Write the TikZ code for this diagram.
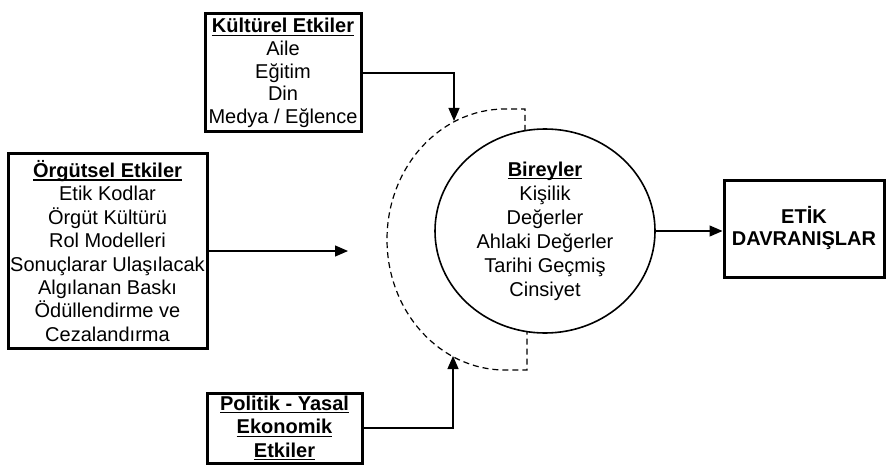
\documentclass[tikz,border=0pt]{standalone}
\usepackage{fontspec}
\setmainfont{Liberation Sans}
\usetikzlibrary{arrows.meta,shapes.geometric}

\newcommand{\ulbf}[1]{\setbox0\hbox{\textbf{#1}}\rlap{\rule[-1.5pt]{\wd0}{0.6pt}}\box0}

\begin{document}
\begin{tikzpicture}[x=0.5pt,y=-0.5pt,
  box/.style={draw,line width=1.5pt,align=center,inner sep=0pt,
    font=\fontsize{10}{11.7}\selectfont},
  arr/.style={line width=0.6pt,-{Triangle[length=6.5pt,width=5.5pt]}}]
 \useasboundingbox (0,0) rectangle (886,470);

 %etkiler
 \node(kult)[box,minimum width=78pt,minimum height=59pt,
  font=\fontsize{10}{11.3}\selectfont] at (283,73)
  {\ulbf{Kültürel Etkiler}\\Aile\\Eğitim\\Din\\Medya / Eğlence};
 \node(org)[box,minimum width=99.5pt,minimum height=97pt] at (107.5,251)
  {\ulbf{Örgütsel Etkiler}\\Etik Kodlar\\Örgüt Kültürü\\Rol Modelleri\\
   Sonuçlarar Ulaşılacak\\Algılanan Baskı\\Ödüllendirme ve\\Cezalandırma};
 \node(pol)[box,minimum width=77.5pt,minimum height=35pt] at (284.5,428)
  {\ulbf{Politik - Yasal}\\\ulbf{Ekonomik}\\\ulbf{Etkiler}};

 %birey
 \node(bir)[ellipse,draw,line width=0.8pt,minimum width=110pt,minimum height=102pt,
  align=center,inner sep=0pt,font=\fontsize{10}{12}\selectfont] at (545,231)
  {\ulbf{Bireyler}\\Kişilik\\Değerler\\Ahlaki Değerler\\Tarihi Geçmiş\\Cinsiyet};
 \draw[line width=0.6pt,dash pattern=on 3pt off 2pt] (525,131) -- (525,109) -- (505,109)
  arc[start angle=270,end angle=90,x radius=118,y radius=130.5] -- (527,370) -- (527,332);

 %sonuc
 \node(etik)[box,minimum width=80pt,minimum height=48.5pt,
  font=\fontsize{10}{11}\selectfont\bfseries] at (804,228.5) {ETİK\\DAVRANIŞLAR};

 \coordinate (kultin) at (454,121);
 \coordinate (orgin) at (348,251);
 \coordinate (polin) at (453,356);
 \draw[arr] (kult.east) -| (kultin);
 \draw[arr] (org.east) -- (orgin);
 \draw[arr] (pol.east) -| (polin);
 \draw[arr] (bir.east) -- (bir.east -| etik.west);
\end{tikzpicture}
\end{document}
